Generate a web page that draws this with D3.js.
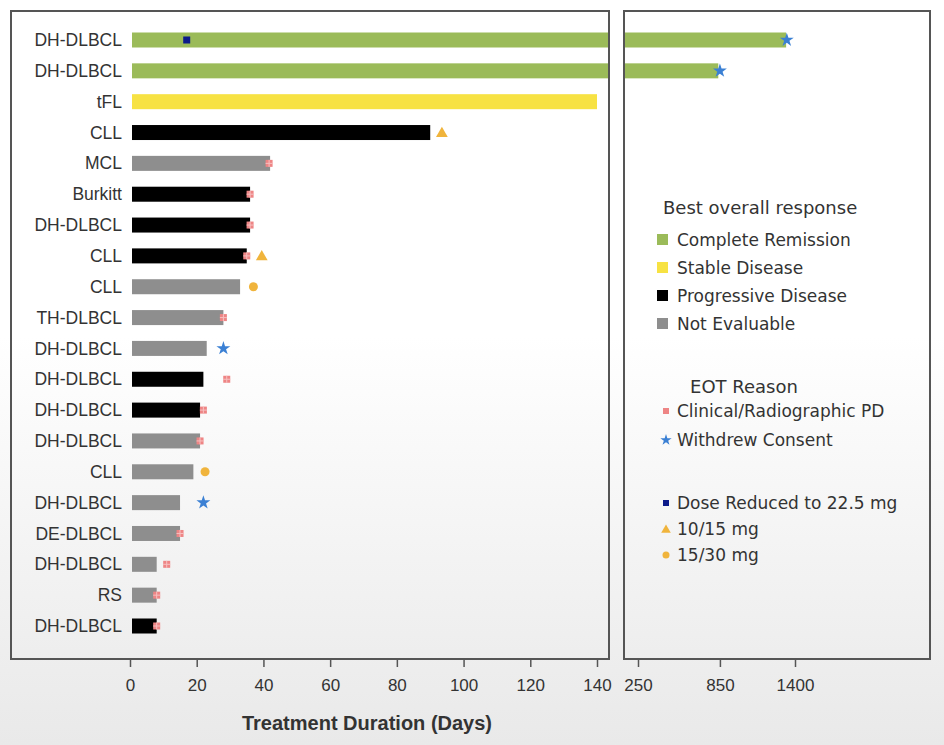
<!DOCTYPE html>
<html>
<head>
<meta charset="utf-8">
<script src="https://cdn.jsdelivr.net/npm/d3@7"></script>
<style>
  body { margin: 0; background: #fff; }
  text { font-family: "Liberation Sans", Arial, sans-serif; fill: #333; }
</style>
</head>
<body>
<div id="chart"></div>
<script>
// patient rows, top to bottom
var labels = ["DH-DLBCL","DH-DLBCL","tFL","CLL","MCL","Burkitt","DH-DLBCL","CLL","CLL","TH-DLBCL",
              "DH-DLBCL","DH-DLBCL","DH-DLBCL","DH-DLBCL","CLL","DH-DLBCL","DE-DLBCL","DH-DLBCL","RS","DH-DLBCL"];
var response = ["CR","CR","SD","PD","NE","PD","PD","PD","NE","NE",
                "NE","PD","PD","NE","NE","NE","NE","NE","NE","PD"];
var days = [1335,838,140,90,42,36,36,35,33,28,23,22,21,21,19,15,15,8,8,8];
// end of treatment reason: PD = clinical/radiographic PD, WC = withdrew consent
var eotReason = ["WC","WC",null,null,"PD","PD","PD","PD",null,"PD",
                 "WC","PD","PD","PD",null,"WC","PD","PD","PD","PD"];
var eotDay = [1340,850,null,null,41.7,36,36,35,null,28,28,29,22,21,null,22,15,11,8,8];
// dose markers: DR = dose reduced to 22.5 mg, T = 10/15 mg, C = 15/30 mg
var doseType = ["DR",null,null,"T",null,null,null,"T","C",null,null,null,null,null,"C",null,null,null,null,null];
var doseDay = [17,null,null,93.5,null,null,null,39.5,37,null,null,null,null,null,22.5,null,null,null,null,null];

var leftTicks = [0,20,40,60,80,100,120,140];
var rightTicks = [250,850,1400];

var respNames = ["Complete Remission","Stable Disease","Progressive Disease","Not Evaluable"];
var respColors = ["#9bbb59","#f7e243","#000000","#8e8e8e"];
var colors = {"CR":"#9bbb59","SD":"#f7e243","PD":"#000000","NE":"#8e8e8e"};
var markColors = {"PD":"#ee8585","WC":"#3b80d4","DR":"#0c1a8a","T":"#f0b43c","C":"#f0b43c"};

var W = 944, H = 745;
var svg = d3.select("#chart").append("svg")
    .attr("width", W).attr("height", H);

// faded video-frame background
var defs = svg.append("defs");
var grad = defs.append("linearGradient")
    .attr("id","bg").attr("x1",0).attr("x2",0).attr("y1",0).attr("y2",1);
grad.append("stop").attr("offset","0.45").attr("stop-color","#ffffff");
grad.append("stop").attr("offset","1").attr("stop-color","#e9e9e9");
svg.append("rect").attr("width",W).attr("height",H).attr("fill","url(#bg)");

var leftP = {x0: 11, x1: 609}, rightP = {x0: 624, x1: 930}, pTop = 11, pBottom = 659;

var x = d3.scaleLinear().domain([0,140]).range([130,597]);
var xr = d3.scaleLinear().domain([250,1400]).range([638,795]);
var y = d3.scalePoint().domain(d3.range(labels.length)).range([40,626]);
var barH = 15;

defs.append("clipPath").attr("id","clipL").append("rect")
    .attr("x",leftP.x0).attr("y",pTop).attr("width",leftP.x1-leftP.x0).attr("height",pBottom-pTop);
defs.append("clipPath").attr("id","clipR").append("rect")
    .attr("x",rightP.x0).attr("y",pTop).attr("width",rightP.x1-rightP.x0).attr("height",pBottom-pTop);

var rows = labels.map(function(d,i){
  return {i:i, label:d, resp:response[i], days:days[i], eot:eotReason[i], eotDay:eotDay[i], dose:doseType[i], doseDay:doseDay[i]};
});

// bars, left panel
svg.append("g").attr("clip-path","url(#clipL)")
  .selectAll("rect").data(rows).enter().append("rect")
    .attr("x", x(0) + 2)
    .attr("y", function(d){ return y(d.i) - barH/2; })
    .attr("width", function(d){ return Math.max(0, x(Math.min(d.days, 145)) - x(0) - 2); })
    .attr("height", barH)
    .attr("fill", function(d){ return colors[d.resp]; });

// bars, right panel (long treatment only)
var longRows = rows.filter(function(d){ return d.days > 145; });
svg.append("g").attr("clip-path","url(#clipR)")
  .selectAll("rect").data(longRows).enter().append("rect")
    .attr("x", rightP.x0)
    .attr("y", function(d){ return y(d.i) - barH/2; })
    .attr("width", function(d){ return xr(d.days) - rightP.x0; })
    .attr("height", barH)
    .attr("fill", function(d){ return colors[d.resp]; });

function xpos(v){ return v > 145 ? xr(v) : x(v); }

function drawSymbol(g, type, cx, cy){
  if (type == "PD") {
    g.append("rect").attr("x",cx-3.5).attr("y",cy-3.5).attr("width",7).attr("height",7)
      .attr("fill",markColors.PD);
    g.append("path").attr("d","M"+(cx-3.5)+","+cy+"H"+(cx+3.5)+"M"+cx+","+(cy-3.5)+"V"+(cy+3.5))
      .attr("stroke","#f6c0c0").attr("stroke-width",1);
  } else if (type == "WC") {
    g.append("path").attr("transform","translate("+cx+","+cy+")")
      .attr("d", d3.symbol().type(d3.symbolStar).size(60)()).attr("fill",markColors.WC);
  } else if (type == "DR") {
    g.append("rect").attr("x",cx-3.5).attr("y",cy-3.5).attr("width",7).attr("height",7)
      .attr("fill",markColors.DR);
  } else if (type == "T") {
    g.append("path").attr("transform","translate("+cx+","+(cy+1)+")")
      .attr("d", d3.symbol().type(d3.symbolTriangle).size(60)()).attr("fill",markColors.T);
  } else if (type == "C") {
    g.append("circle").attr("cx",cx).attr("cy",cy).attr("r",4.5).attr("fill",markColors.C);
  }
}

var marks = svg.append("g");
rows.forEach(function(d){
  if (d.eot) drawSymbol(marks, d.eot, xpos(d.eotDay), y(d.i));
  if (d.dose) drawSymbol(marks, d.dose, xpos(d.doseDay), y(d.i));
});

// panel frames
[leftP, rightP].forEach(function(p){
  svg.append("rect").attr("x",p.x0).attr("y",pTop)
    .attr("width",p.x1-p.x0).attr("height",pBottom-pTop)
    .attr("fill","none").attr("stroke","#555").attr("stroke-width",2);
});

// y labels
var yAxis = svg.append("g").attr("transform","translate(128,0)")
  .call(d3.axisLeft(y).tickSize(0).tickPadding(6).tickFormat(function(i){ return labels[i]; }));
yAxis.select(".domain").remove();
yAxis.selectAll("text").style("font-size","17.5px").style("fill","#333")
  .style("font-family","'Liberation Sans', Arial, sans-serif");

// x axes
function styleAxis(g){
  g.select(".domain").remove();
  g.selectAll("line").attr("stroke","#555").attr("stroke-width",1.5);
  g.selectAll("text").style("font-size","17px").style("fill","#333")
    .style("font-family","'Liberation Sans', Arial, sans-serif");
}
svg.append("g").attr("transform","translate(0,660)")
  .call(d3.axisBottom(x).tickValues(leftTicks).tickSize(7).tickPadding(12).tickFormat(d3.format("d")))
  .call(styleAxis);
svg.append("g").attr("transform","translate(0,660)")
  .call(d3.axisBottom(xr).tickValues(rightTicks).tickSize(7).tickPadding(12).tickFormat(d3.format("d")))
  .call(styleAxis);

svg.append("text")
  .attr("x", 367).attr("y", 730)
  .style("text-anchor","middle")
  .style("font-size","20px").style("font-weight","bold")
  .text("Treatment Duration (Days)");

// legend: best overall response
var lg = svg.append("g");
lg.append("text").attr("x",663).attr("y",214).style("font-size","18px").style("font-family","'DejaVu Sans', sans-serif")
  .text("Best overall response");
respNames.forEach(function(n,i){
  var yy = 240 + i*28;
  lg.append("rect").attr("x",657).attr("y",yy-6).attr("width",11).attr("height",11).attr("fill",respColors[i]);
  lg.append("text").attr("x",677).attr("y",yy+6).style("font-size","17px")
    .style("font-family","'DejaVu Sans', sans-serif").text(n);
});

// legend: EOT reason + dose
lg.append("text").attr("x",744).attr("y",393).style("text-anchor","middle").style("font-size","18px")
  .style("font-family","'DejaVu Sans', sans-serif").text("EOT Reason");
var eotItems = [["PD","Clinical/Radiographic PD",411],["WC","Withdrew Consent",440],
                ["DR","Dose Reduced to 22.5 mg",503],["T","10/15 mg",529],["C","15/30 mg",555]];
eotItems.forEach(function(it){
  var g = lg.append("g");
  if (it[0] == "C") {
    g.append("circle").attr("cx",666).attr("cy",it[2]).attr("r",3.5).attr("fill",markColors.C);
  } else if (it[0] == "T") {
    g.append("path").attr("transform","translate(666,"+(it[2]+1)+")")
      .attr("d", d3.symbol().type(d3.symbolTriangle).size(40)()).attr("fill",markColors.T);
  } else if (it[0] == "WC") {
    g.append("path").attr("transform","translate(666,"+it[2]+")")
      .attr("d", d3.symbol().type(d3.symbolStar).size(40)()).attr("fill",markColors.WC);
  } else {
    g.append("rect").attr("x",663).attr("y",it[2]-3).attr("width",6).attr("height",6)
      .attr("fill", it[0] == "PD" ? markColors.PD : markColors.DR);
  }
  lg.append("text").attr("x",677).attr("y",it[2]+6).style("font-size","17px")
    .style("font-family","'DejaVu Sans', sans-serif").text(it[1]);
});
</script>
</body>
</html>
